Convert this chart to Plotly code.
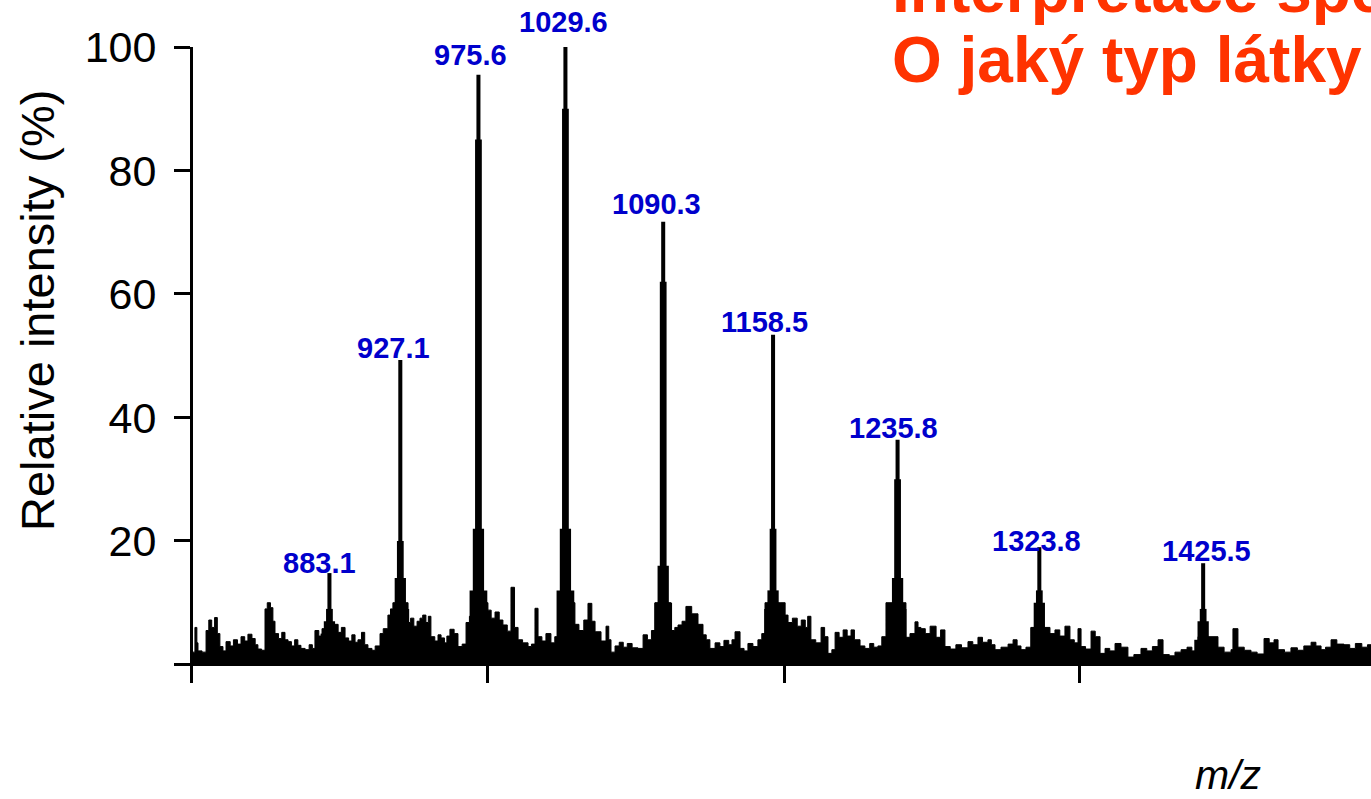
import plotly.graph_objects as go

# ---------------- data ----------------
# Baseline / noise of the spectrum as (m/z, relative intensity %) step breakpoints
noise_points = [
    (798.4, 2.0), (799.6, 6.0), (800.8, 3.5), (801.5, 2.2), (804.0, 2.0), (806.5, 5.5),
    (808.2, 7.2), (810.0, 6.0), (811.8, 7.6), (813.5, 5.0), (815.1, 2.9), (817.0, 2.2),
    (818.9, 3.7), (821.5, 3.0), (823.5, 4.0), (826.0, 3.3), (828.2, 4.5), (830.5, 3.8),
    (832.5, 4.9), (835.0, 4.2), (837.0, 3.2), (838.7, 2.5), (841.0, 2.3), (843.1, 9.0),
    (844.5, 10.0), (846.5, 9.2), (848.0, 7.0), (849.3, 5.0), (851.5, 4.2), (853.5, 5.2),
    (855.5, 4.0), (857.4, 3.7), (859.5, 3.0), (861.5, 4.0), (863.5, 3.1), (865.4, 2.6),
    (868.0, 2.4), (870.5, 3.2), (872.5, 2.6), (874.1, 5.5), (876.5, 4.6), (878.5, 5.8),
    (880.5, 4.3), (882.2, 6.5), (886.5, 6.5), (888.5, 5.2), (890.5, 6.0), (892.8, 4.3),
    (895.0, 3.8), (897.0, 4.8), (899.0, 3.6), (900.8, 4.0), (903.0, 5.2), (905.0, 3.2),
    (907.0, 2.6), (909.5, 2.3), (911.5, 3.0), (914.5, 5.0), (916.5, 5.8), (919.4, 8.0),
    (921.0, 9.0), (922.5, 10.0), (931.9, 6.8), (933.5, 7.5), (935.5, 6.2), (937.5, 7.0),
    (939.3, 7.5), (941.0, 8.0), (943.0, 6.8), (944.5, 7.8), (946.1, 4.5), (948.5, 3.8),
    (950.5, 4.8), (952.4, 4.3), (954.5, 3.5), (956.0, 4.6), (957.9, 5.7), (960.5, 5.0),
    (962.9, 2.9), (965.5, 3.3), (967.9, 6.8), (970.0, 7.8), (972.2, 10.0), (981.5, 8.8),
    (983.5, 7.5), (985.9, 8.5), (988.5, 7.2), (990.8, 6.4), (993.5, 5.4), (995.8, 12.5),
    (998.0, 6.0), (1000.2, 4.0), (1003.0, 3.5), (1006.4, 2.9), (1008.5, 3.3), (1010.7, 9.1),
    (1012.6, 4.5), (1015.0, 3.8), (1017.5, 5.0), (1020.6, 3.5), (1023.0, 4.5), (1025.0, 10.0),
    (1035.5, 6.5), (1038.0, 5.5), (1041.0, 7.2), (1043.6, 9.9), (1046.0, 7.0), (1048.0, 5.3),
    (1051.7, 3.8), (1054.8, 6.2), (1056.5, 4.0), (1057.9, 2.0), (1060.4, 3.0), (1063.0, 3.6),
    (1065.5, 2.8), (1068.0, 3.4), (1071.0, 2.7), (1074.6, 2.6), (1077.8, 4.8), (1080.5, 4.0),
    (1083.0, 5.5), (1085.2, 10.0), (1095.1, 5.5), (1097.5, 6.0), (1099.5, 6.4), (1102.0, 7.0),
    (1104.4, 9.4), (1108.0, 8.2), (1111.9, 6.5), (1115.0, 4.8), (1117.0, 4.0), (1119.3, 2.6),
    (1122.5, 3.5), (1125.5, 2.9), (1128.0, 3.9), (1131.0, 3.2), (1133.0, 4.0), (1134.9, 5.3),
    (1138.0, 2.6), (1140.5, 2.2), (1142.9, 3.4), (1146.0, 2.9), (1149.1, 4.0), (1151.5, 5.0),
    (1153.5, 10.0), (1163.4, 10.0), (1166.0, 8.0), (1167.8, 6.8), (1170.5, 7.5), (1173.5, 6.2),
    (1176.0, 7.2), (1178.5, 6.0), (1180.0, 7.8), (1182.0, 4.0), (1185.0, 3.5), (1188.3, 6.0),
    (1190.5, 4.5), (1192.6, 1.8), (1195.0, 2.4), (1197.0, 5.2), (1199.5, 4.4), (1202.0, 5.6),
    (1204.5, 4.6), (1206.9, 5.6), (1209.0, 4.0), (1212.5, 3.0), (1215.5, 2.6), (1218.5, 3.4),
    (1221.0, 2.8), (1223.6, 3.0), (1226.0, 4.5), (1228.6, 10.0), (1241.0, 4.4), (1243.5, 5.0),
    (1246.6, 6.9), (1248.5, 6.0), (1250.3, 5.8), (1253.0, 5.0), (1256.0, 6.2), (1259.7, 4.4),
    (1262.5, 5.6), (1265.2, 2.9), (1268.5, 2.5), (1272.0, 3.2), (1275.5, 2.7), (1279.5, 3.7),
    (1282.5, 3.2), (1285.7, 4.4), (1288.5, 3.6), (1291.9, 4.0), (1294.0, 3.2), (1296.3, 2.4),
    (1300.0, 2.8), (1304.4, 3.3), (1307.5, 4.0), (1310.0, 3.0), (1312.4, 2.4), (1315.5, 2.8),
    (1318.6, 6.0), (1330.4, 5.0), (1333.5, 5.6), (1336.5, 4.6), (1339.7, 6.2), (1342.8, 4.0),
    (1345.5, 3.5), (1347.8, 5.8), (1349.7, 2.9), (1352.5, 2.5), (1355.9, 5.4), (1358.5, 4.5),
    (1361.5, 1.8), (1364.6, 2.6), (1367.5, 2.2), (1370.8, 3.4), (1374.5, 2.8), (1378.8, 1.2),
    (1382.5, 1.6), (1386.9, 2.6), (1390.5, 2.2), (1394.0, 2.9), (1397.5, 4.0), (1400.6, 1.6),
    (1404.5, 1.4), (1408.0, 2.0), (1411.8, 2.4), (1415.5, 2.8), (1418.5, 2.2), (1422.3, 4.5),
    (1434.7, 2.8), (1438.5, 2.0), (1442.8, 2.4), (1444.0, 5.8), (1447.1, 2.8), (1451.0, 2.3),
    (1455.2, 2.0), (1459.0, 1.7), (1463.3, 4.2), (1466.5, 3.5), (1469.5, 4.0), (1472.0, 2.4),
    (1476.0, 2.0), (1480.0, 2.7), (1484.0, 2.3), (1488.0, 3.0), (1492.5, 3.6), (1495.5, 3.0),
    (1498.7, 2.4), (1501.5, 2.8), (1504.9, 4.0), (1508.5, 3.3), (1512.9, 3.2), (1516.5, 2.6),
    (1520.0, 3.4), (1524.0, 2.8), (1527.5, 3.2), (1529.7, 3.2),
]
noise_mz = [p[0] for p in noise_points]
noise_int = [p[1] for p in noise_points]

# Labelled peaks (apex) and the intensity up to which each peak body is wider
peak_mz = [883.1, 927.1, 975.6, 1029.6, 1090.3, 1158.5, 1235.8, 1323.8, 1425.5]
peak_top = [14.8, 49.3, 95.5, 100.0, 71.7, 53.4, 36.4, 19.0, 16.4]
peak_mid = [9.0, 20.0, 85.0, 90.0, 62.0, 22.0, 30.0, 12.0, 9.0]
peak_base = [7.0, 14.0, 22.0, 22.0, 16.0, 12.0, 14.0, 10.0, 7.0]
peak_foot = [5.0, 9.0, 12.0, 12.0, 10.0, 9.0, 9.0, 6.0, 4.0]
peak_labels = ["883.1", "927.1", "975.6", "1029.6", "1090.3",
               "1158.5", "1235.8", "1323.8", "1425.5"]

x_ticks = [798.4, 981.5, 1165.9, 1349.0]
y_ticks = [0, 20, 40, 60, 80, 100]
y_ticktext = ["", "20", "40", "60", "80", "100"]

# ---------------- styling ----------------
FONT = "Liberation Sans, Arial, Helvetica, sans-serif"
label_shift_x = [-10, -7, -8, -2, -7, -9, -4, -3, 3]
label_shift_y = [10, 12, 20, 25, 18, 13, 12, 6, 12]

fig = go.Figure()

fig.add_trace(go.Scatter(
    x=noise_mz, y=noise_int, mode="lines", line=dict(color="black", width=1, shape="hv"),
    fill="tozeroy", fillcolor="black", hoverinfo="skip", showlegend=False))

for heights, w in [(peak_foot, 11.0), (peak_base, 7.0), (peak_mid, 4.2), (peak_top, 2.5)]:
    fig.add_trace(go.Bar(
        x=peak_mz, y=heights, width=[w] * len(peak_mz), base=0,
        marker=dict(color="black", line=dict(width=0)), hoverinfo="skip", showlegend=False))

for mz, top, lab, dx, dy in zip(peak_mz, peak_top, peak_labels, label_shift_x, label_shift_y):
    fig.add_annotation(x=mz, y=top, text=f"<b>{lab}</b>", showarrow=False,
                       xanchor="center", yanchor="middle", xshift=dx, yshift=dy,
                       font=dict(family=FONT, size=29, color="#0000CC"))

# axis titles (placed as annotations to match positions)
fig.add_annotation(xref="paper", yref="paper", x=-0.1316, y=0.5865,
                   text="Relative intensity (%)", textangle=-90, showarrow=False,
                   xanchor="center", yanchor="middle",
                   font=dict(family=FONT, size=47, color="black"))
fig.add_annotation(xref="paper", yref="paper", x=0.8786, y=-0.1447,
                   text="<i>m/z</i>", showarrow=False, xanchor="center", yanchor="middle",
                   font=dict(family=FONT, size=41, color="black"))

# red slide heading (cut off by the frame, as in the original slide)
fig.add_annotation(xref="paper", yref="paper", x=0.5917, y=1.0896,
                   text="<b>Interpretace spe</b>", showarrow=False, xanchor="left", yanchor="middle",
                   font=dict(family=FONT, size=64, color="#FF3300"))
fig.add_annotation(xref="paper", yref="paper", x=0.5917, y=0.9796,
                   text="<b>O jaký typ látky</b>", showarrow=False, xanchor="left", yanchor="middle",
                   font=dict(family=FONT, size=64, color="#FF3300"))

fig.update_layout(
    width=1371, height=799,
    margin=dict(l=193, r=0, t=47, b=116, pad=0),
    paper_bgcolor="white", plot_bgcolor="white",
    barmode="overlay", showlegend=False,
    font=dict(family=FONT, color="black"),
)
fig.update_xaxes(range=[798.4, 1529.7], showgrid=False, zeroline=False, showline=False,
                 tickvals=x_ticks, ticks="inside", ticklen=18, tickwidth=2.5, tickcolor="black",
                 showticklabels=False)
fig.update_yaxes(range=[-3.0, 100.0], showgrid=False, zeroline=True, zerolinecolor="black",
                 zerolinewidth=4, showline=True, linecolor="black", linewidth=3,
                 tickvals=y_ticks, ticktext=y_ticktext, ticks="outside", ticklen=16,
                 tickwidth=2.5, tickcolor="black", tickfont=dict(family=FONT, size=43, color="black"),
                 ticklabelstandoff=9)

fig.write_html("out.html", config={"displayModeBar": False},
               post_script="document.body.style.margin='0';document.body.style.overflow='hidden';")
